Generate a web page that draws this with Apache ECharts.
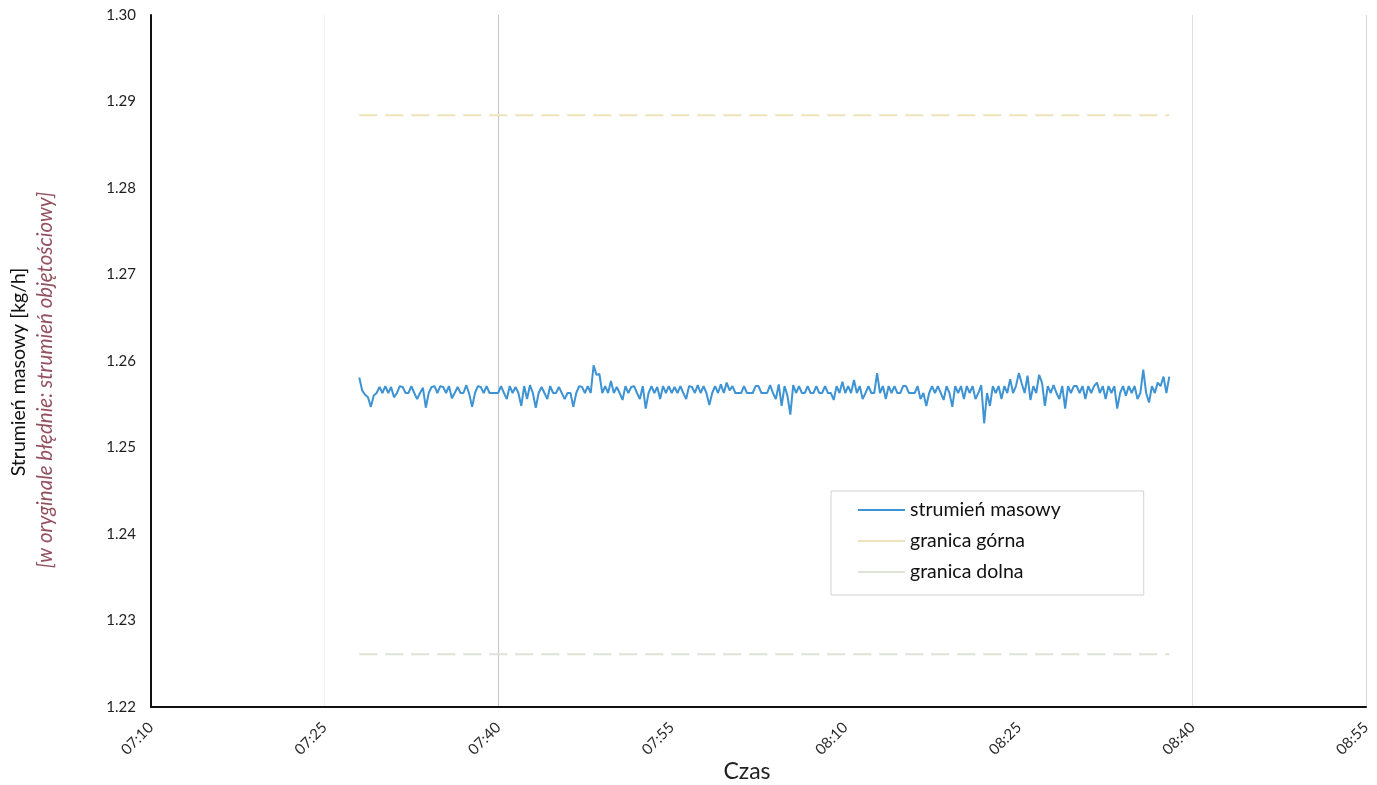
<!DOCTYPE html>
<html>
<head>
<meta charset="utf-8">
<script src="https://cdn.jsdelivr.net/npm/echarts@6/dist/echarts.min.js"></script>
<style>
  html, body { margin: 0; padding: 0; background: #fff; }
  #chart { width: 1377px; height: 785px; }
</style>
</head>
<body>
<div id="chart"></div>
<script>
// Time axis: minutes counted from 07:10, one tick every 15 minutes
const tickLabels = ['07:10', '07:25', '07:40', '07:55', '08:10', '08:25', '08:40', '08:55'];
const TICK_STEP = 15;

// Flow samples: logged every 15 s from 07:28 (18 min after 07:10)
const sampleStart = 18;
const sampleStep = 0.25;
const massFlow = [
  1.2581, 1.2566, 1.2561, 1.2558, 1.2547, 1.2560, 1.2563, 1.2570, 1.2563, 1.2571,
  1.2563, 1.2570, 1.2558, 1.2563, 1.2571, 1.2570, 1.2563, 1.2563, 1.2571, 1.2563,
  1.2556, 1.2563, 1.2569, 1.2546, 1.2563, 1.2570, 1.2571, 1.2563, 1.2571, 1.2570,
  1.2563, 1.2571, 1.2557, 1.2563, 1.2570, 1.2563, 1.2563, 1.2572, 1.2562, 1.2547,
  1.2563, 1.2571, 1.2570, 1.2563, 1.2571, 1.2563, 1.2563, 1.2563, 1.2563, 1.2571,
  1.2563, 1.2556, 1.2571, 1.2563, 1.2570, 1.2563, 1.2548, 1.2571, 1.2556, 1.2572,
  1.2563, 1.2546, 1.2563, 1.2570, 1.2563, 1.2556, 1.2571, 1.2563, 1.2563, 1.2570,
  1.2563, 1.2556, 1.2563, 1.2563, 1.2547, 1.2563, 1.2571, 1.2570, 1.2563, 1.2571,
  1.2563, 1.2595, 1.2584, 1.2585, 1.2563, 1.2571, 1.2563, 1.2577, 1.2563, 1.2570,
  1.2563, 1.2555, 1.2571, 1.2563, 1.2570, 1.2571, 1.2563, 1.2556, 1.2571, 1.2545,
  1.2563, 1.2571, 1.2563, 1.2570, 1.2556, 1.2571, 1.2563, 1.2571, 1.2563, 1.2570,
  1.2563, 1.2571, 1.2563, 1.2556, 1.2571, 1.2570, 1.2563, 1.2572, 1.2563, 1.2571,
  1.2563, 1.2549, 1.2563, 1.2571, 1.2563, 1.2573, 1.2563, 1.2575, 1.2566, 1.2571,
  1.2563, 1.2563, 1.2563, 1.2571, 1.2563, 1.2563, 1.2563, 1.2571, 1.2571, 1.2563,
  1.2563, 1.2563, 1.2572, 1.2563, 1.2556, 1.2573, 1.2548, 1.2571, 1.2560, 1.2538,
  1.2572, 1.2563, 1.2571, 1.2563, 1.2563, 1.2571, 1.2563, 1.2563, 1.2571, 1.2563,
  1.2563, 1.2571, 1.2563, 1.2563, 1.2555, 1.2571, 1.2563, 1.2576, 1.2563, 1.2571,
  1.2563, 1.2578, 1.2563, 1.2571, 1.2556, 1.2563, 1.2571, 1.2563, 1.2563, 1.2586,
  1.2563, 1.2571, 1.2556, 1.2571, 1.2563, 1.2571, 1.2563, 1.2563, 1.2571, 1.2571,
  1.2563, 1.2563, 1.2563, 1.2571, 1.2556, 1.2563, 1.2548, 1.2563, 1.2571, 1.2563,
  1.2571, 1.2563, 1.2555, 1.2571, 1.2563, 1.2547, 1.2571, 1.2563, 1.2571, 1.2556,
  1.2571, 1.2563, 1.2571, 1.2556, 1.2563, 1.2572, 1.2528, 1.2563, 1.2548, 1.2571,
  1.2563, 1.2571, 1.2556, 1.2571, 1.2563, 1.2579, 1.2563, 1.2571, 1.2586, 1.2574,
  1.2563, 1.2583, 1.2555, 1.2571, 1.2563, 1.2584, 1.2575, 1.2548, 1.2571, 1.2563,
  1.2572, 1.2563, 1.2556, 1.2571, 1.2545, 1.2571, 1.2563, 1.2571, 1.2571, 1.2563,
  1.2571, 1.2556, 1.2571, 1.2563, 1.2571, 1.2575, 1.2563, 1.2571, 1.2556, 1.2571,
  1.2563, 1.2571, 1.2545, 1.2563, 1.2571, 1.2560, 1.2571, 1.2563, 1.2571, 1.2556,
  1.2563, 1.2590, 1.2563, 1.2552, 1.2571, 1.2563, 1.2575, 1.2571, 1.2582, 1.2563,
  1.2582
];

// Control limits, drawn over the same time span as the samples
const upperLimit = 1.2884;
const lowerLimit = 1.2261;

const seriesNames = ['strumień masowy', 'granica górna', 'granica dolna'];

const flowData = massFlow.map((v, i) => [sampleStart + i * sampleStep, v]);
const sampleEnd = sampleStart + (massFlow.length - 1) * sampleStep;
const upperData = [[sampleStart, upperLimit], [sampleEnd, upperLimit]];
const lowerData = [[sampleStart, lowerLimit], [sampleEnd, lowerLimit]];

const FONT = 'Lato, "Open Sans", sans-serif';

const chart = echarts.init(document.getElementById('chart'));
chart.setOption({
  backgroundColor: '#ffffff',
  animation: false,
  grid: { left: 151, right: 11, top: 15, bottom: 78, containLabel: false },
  xAxis: {
    type: 'value',
    min: 0,
    max: (tickLabels.length - 1) * TICK_STEP,
    interval: TICK_STEP,
    axisLine: { show: true, onZero: false, lineStyle: { color: '#111', width: 2 } },
    axisTick: { show: false },
    splitLine: {
      show: true,
      lineStyle: {
        color: ['rgba(0,0,0,0)', '#f0f0f0', '#c4c4c4', 'rgba(0,0,0,0)', 'rgba(0,0,0,0)', 'rgba(0,0,0,0)', '#dedede', '#d4d4d4'],
        width: 1
      }
    },
    axisLabel: {
      rotate: 45,
      margin: 18,
      color: '#2a2a2a',
      fontFamily: FONT,
      fontSize: 15,
      formatter: v => tickLabels[Math.round(v / TICK_STEP)] || ''
    }
  },
  yAxis: {
    type: 'value',
    min: 1.22,
    max: 1.30,
    interval: 0.01,
    axisLine: { show: true, lineStyle: { color: '#111', width: 2 } },
    axisTick: { show: false },
    splitLine: { show: false },
    axisLabel: {
      margin: 15,
      color: '#1e1e1e',
      fontFamily: FONT,
      fontSize: 15,
      formatter: v => v.toFixed(2)
    }
  },
  legend: {
    orient: 'vertical',
    left: 831,
    top: 491,
    padding: [9, 83, 13, 27],
    itemWidth: 47,
    itemHeight: 14,
    itemGap: 11,
    backgroundColor: '#ffffff',
    borderColor: '#d2d2d2',
    borderWidth: 1,
    textStyle: { color: '#111', fontFamily: FONT, fontSize: 19.5 },
    data: seriesNames.map(n => ({ name: n, icon: 'path://M0,6H47V8H0Z' }))
  },
  series: [
    {
      name: seriesNames[0],
      type: 'line',
      data: flowData,
      showSymbol: false,
      symbol: 'none',
      lineStyle: { color: '#3d93d3', width: 2 },
      itemStyle: { color: '#3d93d3' },
      z: 3
    },
    {
      name: seriesNames[1],
      type: 'line',
      data: upperData,
      showSymbol: false,
      symbol: 'none',
      lineStyle: { color: '#efe2bb', width: 2, type: [18, 8] },
      itemStyle: { color: '#efe2bb' }
    },
    {
      name: seriesNames[2],
      type: 'line',
      data: lowerData,
      showSymbol: false,
      symbol: 'none',
      lineStyle: { color: '#dde3d6', width: 2, type: [18, 8] },
      itemStyle: { color: '#dde3d6' }
    }
  ],
  graphic: [
    {
      type: 'text',
      x: 19, y: 372,
      rotation: Math.PI / 2,
      style: {
        text: 'Strumień masowy [kg/h]',
        fill: '#111',
        font: '19.5px ' + FONT,
        align: 'center',
        verticalAlign: 'middle'
      }
    },
    {
      type: 'text',
      x: 45, y: 380,
      rotation: Math.PI / 2,
      style: {
        text: '[w oryginale błędnie: strumień objętościowy]',
        fill: '#94505f',
        font: 'italic 20.5px ' + FONT,
        align: 'center',
        verticalAlign: 'middle'
      }
    },
    {
      type: 'text',
      x: 747, y: 772,
      style: {
        text: 'Czas',
        fill: '#222',
        font: '23px ' + FONT,
        align: 'center',
        verticalAlign: 'middle'
      }
    }
  ]
});
</script>
</body>
</html>
